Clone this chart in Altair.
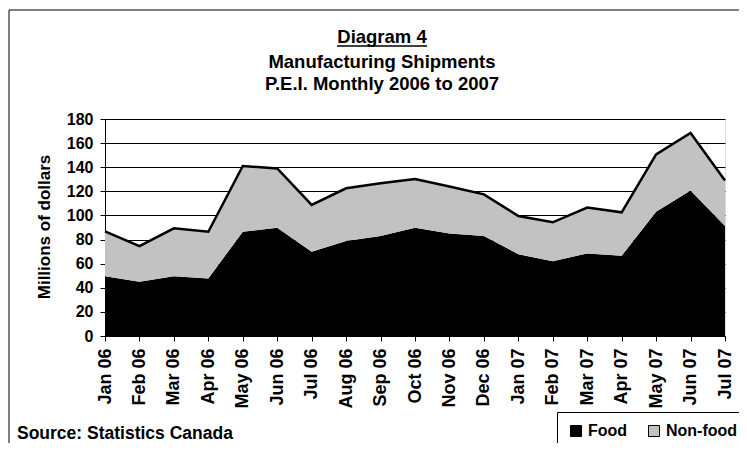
import altair as alt
import pandas as pd

months = ["Jan 06", "Feb 06", "Mar 06", "Apr 06", "May 06", "Jun 06", "Jul 06",
          "Aug 06", "Sep 06", "Oct 06", "Nov 06", "Dec 06", "Jan 07", "Feb 07",
          "Mar 07", "Apr 07", "May 07", "Jun 07", "Jul 07"]
food = [49.6, 44.9, 49.6, 47.7, 86.5, 89.8, 69.9, 78.7, 82.9, 89.8, 85.1, 82.9,
        67.9, 62.1, 68.5, 66.5, 103.1, 120.6, 91.2]
total = [86.8, 74.6, 89.3, 86.5, 141.0, 139.0, 108.7, 122.5, 126.7, 130.3, 124.0,
         117.5, 99.5, 94.3, 106.5, 102.6, 150.7, 168.4, 129.0]
y_ticks = [0, 20, 40, 60, 80, 100, 120, 140, 160, 180]
series = ["Food", "Non-food"]
series_colors = ["#000000", "#c2c2c2"]

df = pd.DataFrame({"month": months, "food": food, "total": total})

FONT = "Liberation Sans"

x_enc = alt.X("month:O", sort=months,
              scale=alt.Scale(type="point", padding=0),
              axis=alt.Axis(title=None, labelAngle=-90, labelFontSize=18,
                            labelFontWeight="bold", labelPadding=7, tickSize=5,
                            grid=False, domainColor="black", tickColor="black",
                            labelColor="black", labelFont=FONT, labelOverlap=False))
y_scale = alt.Scale(domain=[0, 180], nice=False)
y_axis = alt.Axis(title=None, values=y_ticks, labelFontSize=16, labelFontWeight="bold",
                  labelPadding=7, tickSize=5, domainColor="black", tickColor="black",
                  gridColor="black", gridOpacity=1, gridWidth=1, labelColor="black",
                  labelFont=FONT, labelOverlap=False, labelFlush=False)
color_scale = alt.Scale(domain=series, range=series_colors)
legend = alt.Legend(title=None, orient="none", legendX=452, legendY=293,
                    direction="horizontal", symbolType="square", symbolSize=121,
                    symbolStrokeColor="black", symbolStrokeWidth=1, symbolOpacity=1,
                    labelFont=FONT, labelFontSize=16, labelFontWeight="bold",
                    labelColor="black", labelOffset=4, columnPadding=18,
                    padding=11, strokeColor="black", fillColor="white")
color_enc = alt.Color("series:N", scale=color_scale, legend=legend)

base = alt.Chart(df)

food_area = base.transform_calculate(series="'Food'").mark_area(opacity=1).encode(
    x=x_enc,
    y=alt.Y("food:Q", scale=y_scale, axis=y_axis, stack=None),
    color=color_enc,
)
nonfood_area = base.transform_calculate(series="'Non-food'").mark_area(opacity=1).encode(
    x=x_enc,
    y=alt.Y("total:Q", scale=y_scale, axis=y_axis, stack=None),
    y2="food:Q",
    color=color_enc,
)
top_line = base.mark_line(color="black", strokeWidth=2.5).encode(
    x=x_enc,
    y=alt.Y("total:Q", scale=y_scale, axis=y_axis),
)

one = alt.Data(values=[{}])


def label(txt, x, y, size, angle=0, align="center"):
    return alt.Chart(one).mark_text(
        text=txt, font=FONT, fontSize=size, fontWeight="bold", color="black",
        align=align, baseline="alphabetic", angle=angle
    ).encode(x=alt.value(x), y=alt.value(y))


title1 = label("Diagram 4", 277, -76, 18.5)
title2 = label("Manufacturing Shipments", 277, -51, 18.5)
title3 = label("P.E.I. Monthly 2006 to 2007", 277, -29, 18.5)
underline = alt.Chart(one).mark_rule(color="black", strokeWidth=1.5).encode(
    x=alt.value(232), x2=alt.value(322), y=alt.value(-73))
ytitle = alt.Chart(one).mark_text(
    text="Millions of dollars", font=FONT, fontSize=17, fontWeight="bold",
    color="black", align="center", baseline="middle", angle=270
).encode(x=alt.value(-60), y=alt.value(108))
source = label("Source: Statistics Canada", -88, 320, 17.5, align="left")

frame_top = alt.Chart(one).mark_rule(color="black", strokeWidth=1).encode(
    x=alt.value(-96), x2=alt.value(640), y=alt.value(-109))
frame_left = alt.Chart(one).mark_rule(color="black", strokeWidth=1).encode(
    x=alt.value(-96), y=alt.value(-109), y2=alt.value(330))

chart = alt.layer(
    food_area, nonfood_area, top_line,
    title1, title2, title3, underline, ytitle, source, frame_top, frame_left
).properties(
    width=620, height=217,
    autosize=alt.AutoSizeParams(type="none"),
    padding={"left": 97, "top": 111, "right": 14, "bottom": 107},
).configure_view(stroke="black", strokeWidth=1).configure(background="white")

chart.save("out.html", embed_options={"renderer": "svg", "actions": False})
